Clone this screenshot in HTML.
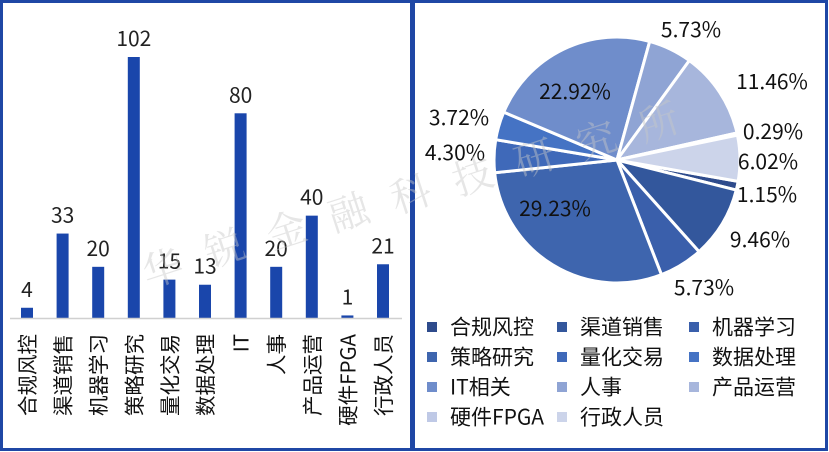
<!DOCTYPE html>
<html><head><meta charset="utf-8"><style>
html,body{margin:0;padding:0;background:#fff;}
svg{display:block;font-family:"Noto Sans CJK SC","Liberation Sans",sans-serif;}
</style></head><body>
<svg id="c" width="829" height="452" viewBox="0 0 829 452">
<rect x="1.5" y="1.5" width="410" height="448" fill="#fff" stroke="#1f47a5" stroke-width="3"/>
<rect x="413.5" y="1.5" width="413" height="448" fill="#fff" stroke="#1f47a5" stroke-width="3"/>
<g id="bars"></g>
<g id="pie"></g>
<g id="legend"></g>
<g fill="#c8c8c8" opacity="0.45" font-size="40" style="font-family:'Noto Serif CJK SC',serif">
<text x="148" y="288" transform="rotate(-18 148 288)">华</text>
<text x="210" y="268" transform="rotate(-18 210 268)">锐</text>
<text x="272" y="250" transform="rotate(-18 272 250)">金</text>
<text x="334" y="232" transform="rotate(-18 334 232)">融</text>
<text x="396" y="214" transform="rotate(-18 396 214)">科</text>
<text x="458" y="196" transform="rotate(-18 458 196)">技</text>
<text x="520" y="178" transform="rotate(-18 520 178)">研</text>
<text x="582" y="160" transform="rotate(-18 582 160)">究</text>
<text x="644" y="142" transform="rotate(-18 644 142)">所</text>
</g>
</svg>
<script>
const categories=["合规风控","渠道销售","机器学习","策略研究","量化交易","数据处理","IT","人事","产品运营","硬件FPGA","行政人员"];
const counts=[4,33,20,102,15,13,80,20,40,1,21];
const pieLabels=["合规风控","渠道销售","机器学习","策略研究","量化交易","数据处理","IT相关","人事","产品运营","硬件FPGA","行政人员"];
const piePercents=[1.15,9.46,5.73,29.23,4.30,3.72,22.92,5.73,11.46,0.29,6.02];
const pieColors=["#2e4b8c","#33579c","#3a5fab","#3e65ae","#3f69b9","#4573c4","#6f8dcb","#8fa4d4","#a7b6dc","#bfc9e6","#ccd4ea"];
const NS="http://www.w3.org/2000/svg";
function mk(t,a,p){const e=document.createElementNS(NS,t);for(const k in a)e.setAttribute(k,a[k]);p.appendChild(e);return e;}
const bars=document.getElementById('bars');
const baseY=318, x0=27, step=35.6, bw=12, scale=261/102;
const yS=v=>baseY-v*scale, xS=i=>x0+i*step;
categories.forEach((c,i)=>{
  const y=yS(counts[i]);
  const r=mk('rect',{x:xS(i)-bw/2,y:y,width:bw,height:baseY-y,fill:"#1a46ab"},bars);
  
  
  const t=mk('text',{x:xS(i),y:y-11,'text-anchor':'middle','font-size':21,fill:"#222"},bars);
  t.textContent=counts[i];
  
  
  const l=mk('text',{x:0,y:0,'text-anchor':'end','font-size':20.5,fill:"#111",transform:`translate(${xS(i)+8},334) rotate(-90)`},bars);
  l.textContent=c;
  
  
});
const ax=mk('line',{x1:10,x2:402,y1:baseY+0.5,y2:baseY+0.5,stroke:"#d0d0d0","stroke-width":1.5},bars);


const pie=document.getElementById('pie');
const cx=617,cy=160,R=123;
const total=piePercents.reduce((a,b)=>a+b,0);
let ang=100;
const lblPos=[[767,195],[760,240],[704,288],[555,209],[455,153],[459,118],[575,92],[691,30],[772,82],[773,132],[768,162]];
function pt(a,r){const rad=(a-90)*Math.PI/180;return [cx+r*Math.cos(rad),cy+r*Math.sin(rad)];}
piePercents.forEach((p,i)=>{
  const a1=ang,a2=ang+p/total*360;ang=a2;
  const [xa,ya]=pt(a1,R),[xb,yb]=pt(a2,R);
  const large=(a2-a1)>180?1:0;
  const s=mk('path',{d:`M${cx},${cy}L${xa},${ya}A${R},${R} 0 ${large} 1 ${xb},${yb}Z`,fill:pieColors[i],stroke:"#fff","stroke-width":3,"stroke-linejoin":"round"},pie);
  
  
});
piePercents.forEach((p,i)=>{
  const t=mk('text',{x:lblPos[i][0],y:lblPos[i][1]+7,'text-anchor':'middle','font-size':21,fill:"#111"},pie);
  t.textContent=p.toFixed(2)+'%';
  
  
});
const lg=document.getElementById('legend');
const colX=[432,562,694], rowY=[327,357,387,417];
pieLabels.forEach((n,i)=>{
  const cxl=colX[i%3], cyl=rowY[Math.floor(i/3)];
  const g=mk('g',{},lg);
  
  
  mk('rect',{x:cxl-5,y:cyl-5,width:10,height:10,fill:pieColors[i]},g);
  const t=mk('text',{x:cxl+18,y:cyl+7.5,'font-size':21,fill:"#111"},g);
  t.textContent=n;
});
</script>
</body></html>
